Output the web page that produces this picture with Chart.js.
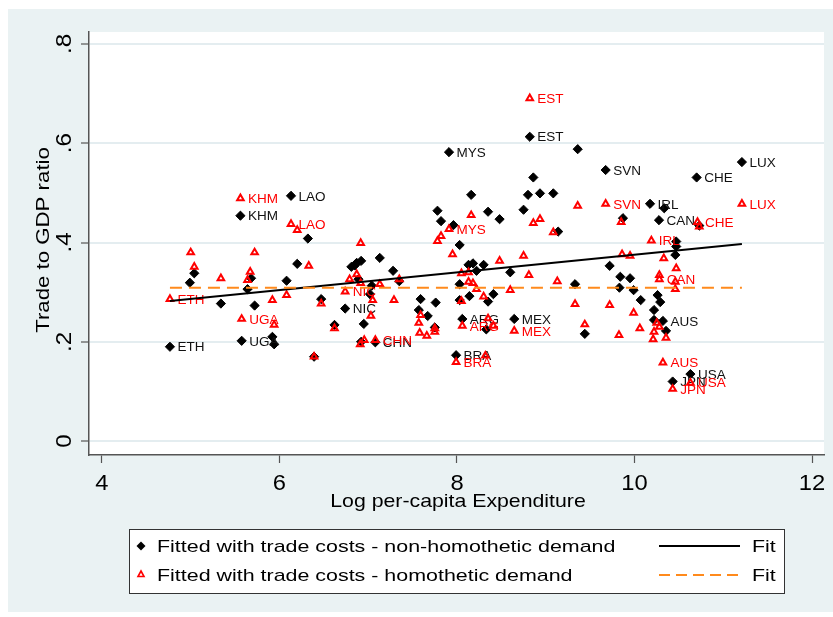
<!DOCTYPE html>
<html><head><meta charset="utf-8">
<script src="https://cdn.jsdelivr.net/npm/chart.js@4.4.1/dist/chart.umd.min.js"></script>
<style>html,body{margin:0;padding:0;background:#fff;}canvas{display:block;}</style>
</head><body>
<canvas id="c" width="833" height="617"></canvas>
<script>
// Non-homothetic demand (black diamonds)
const nhX = [4.766,5.574,5.56,6.13,6.74,7.08,7.91,7.99,8.06,8.645,8.82,9.675,10.175,10.276,10.32,10.43,10.63,10.70,11.21,
  9.36,10.335,10.73,10.47,8.86,8.16,8.80,8.935,9.085,8.35,8.48,8.75,9.14,9.87,6.32,7.78,7.82,7.96,8.03,
  5.04,4.99,5.68,5.64,5.34,5.72,5.92,5.94,6.20,6.81,6.87,6.92,6.85,7.13,7.28,6.89,7.04,7.35,6.08,7.02,6.47,
  7.59,7.76,7.57,7.67,8.03,8.03,6.62,6.95,7.75,6.92,6.39,9.72,8.13,8.18,8.22,8.30,8.60,9.33,9.84,9.95,9.83,
  9.99,10.07,8.14,8.41,8.35,8.33,9.44,10.47,10.46,10.26,10.29,10.22,10.22,10.355];
const nhY = [0.190,0.202,0.454,0.494,0.267,0.199,0.582,0.173,0.246,0.246,0.613,0.546,0.478,0.445,0.242,0.120,0.135,0.531,0.562,
  0.588,0.469,0.434,0.402,0.531,0.496,0.496,0.499,0.499,0.462,0.447,0.466,0.422,0.449,0.408,0.464,0.443,0.435,0.395,
  0.338,0.319,0.328,0.306,0.277,0.273,0.210,0.195,0.357,0.351,0.359,0.363,0.354,0.369,0.343,0.326,0.313,0.322,0.323,0.296,0.286,
  0.286,0.279,0.264,0.252,0.284,0.316,0.234,0.236,0.229,0.200,0.170,0.353,0.355,0.358,0.343,0.355,0.340,0.316,0.331,0.328,0.309,
  0.304,0.284,0.292,0.296,0.281,0.225,0.216,0.392,0.375,0.294,0.280,0.264,0.244,0.222];
const nhLabels = ['ETH','UGA','KHM','LAO','NIC','CHN','MYS','BRA','ARG','MEX','EST','SVN','IRL','CAN','AUS','JPN','USA','CHE','LUX'];

// Homothetic demand (red triangles)
const hX = [4.766,5.574,5.56,6.13,6.74,7.08,7.91,7.99,8.06,8.645,8.82,9.675,10.19,10.28,10.32,10.43,10.63,10.71,11.21,
  6.20,10.73,10.28,6.915,7.82,7.78,8.16,9.36,8.86,8.935,9.085,9.85,5.00,5.72,5.04,5.34,5.67,5.64,5.92,5.94,
  7.95,6.33,6.87,6.79,6.915,7.13,7.35,6.08,7.05,7.29,6.47,7.03,7.59,8.05,6.62,7.57,7.58,7.66,7.75,7.75,
  6.91,6.955,6.39,8.32,8.48,8.75,9.86,9.95,8.81,8.13,8.05,8.13,8.18,8.22,9.13,8.60,8.30,9.33,9.72,9.99,
  8.35,8.41,9.44,9.825,10.06,10.33,10.47,10.46,10.46,10.25,10.28,10.22,10.21,10.355];
const hY = [0.286,0.246,0.489,0.437,0.301,0.2035,0.427,0.159,0.232,0.222,0.6905,0.478,0.404,0.326,0.158,0.105,0.1175,0.441,0.478,
  0.425,0.432,0.3345,0.399,0.413,0.403,0.455,0.474,0.439,0.447,0.4205,0.441,0.380,0.380,0.351,0.328,0.341,0.3245,0.284,0.234,
  0.376,0.353,0.336,0.326,0.318,0.316,0.326,0.294,0.284,0.284,0.277,0.2525,0.254,0.282,0.227,0.238,0.218,0.212,0.227,0.220,
  0.195,0.2035,0.170,0.172,0.363,0.373,0.376,0.373,0.3345,0.340,0.338,0.321,0.318,0.306,0.322,0.304,0.291,0.276,0.274,0.2585,
  0.247,0.232,0.235,0.2135,0.227,0.368,0.348,0.321,0.306,0.238,0.230,0.220,0.205,0.208];
const hLabels = ['ETH','UGA','KHM','LAO','NIC','CHN','MYS','BRA','ARG','MEX','EST','SVN','IRL','CAN','AUS','JPN','USA','CHE','LUX'];

// Fit lines
const fitX = [4.766, 11.21];
const fitNHY = [0.282, 0.397];
const fitHY = [0.309, 0.309];

const xTicks = [4, 6, 8, 10, 12];
const xTickLabels = ['4', '6', '8', '10', '12'];
const yTicks = [0, 0.2, 0.4, 0.6, 0.8];
const yTickLabels = ['0', '.2', '.4', '.6', '.8'];
const xTitle = 'Log per-capita Expenditure';
const yTitle = 'Trade to GDP ratio';
const legendNames = ['Fitted with trade costs - non-homothetic demand', 'Fitted with trade costs - homothetic demand'];
const fitName = 'Fit';

const FONT = '"Liberation Sans", Arial, Helvetica, sans-serif';
const RED = '#ff0000';
const ORANGE = '#ff8a1c';
const BG = '#eaf2f3';

function txt(ctx, s, x, y, o) {
  ctx.save();
  ctx.translate(x, y);
  if (o.rot) ctx.rotate(o.rot);
  ctx.scale(o.sx || 1, 1);
  ctx.font = o.font;
  ctx.fillStyle = o.color || '#000';
  ctx.textAlign = o.align || 'left';
  ctx.textBaseline = o.base || 'alphabetic';
  ctx.fillText(s, 0, 0);
  ctx.restore();
}

const decor = {
  id: 'decor',
  beforeDraw(chart) {
    const ctx = chart.ctx, a = chart.chartArea;
    ctx.save();
    ctx.fillStyle = '#fff';
    ctx.fillRect(0, 0, chart.width, chart.height);
    ctx.fillStyle = BG;
    ctx.fillRect(8, 9, 825, 603);
    ctx.fillStyle = '#fff';
    ctx.fillRect(a.left, a.top, a.right - a.left, a.bottom - a.top);
    ctx.restore();
  },
  afterDatasetDraw(chart, args) {
    const ctx = chart.ctx;
    let labels, color;
    if (args.index === 0) { labels = nhLabels; color = '#111'; }
    else if (args.index === 1) { labels = hLabels; color = RED; }
    else return;
    const meta = chart.getDatasetMeta(args.index);
    labels.forEach((l, i) => {
      const p = meta.data[i];
      if (!l || !p) return;
      txt(ctx, l, p.x + 7.5, p.y + 1, { font: '13.5px ' + FONT, color, base: 'middle' });
    });
  },
  afterDraw(chart) {
    const ctx = chart.ctx;
    const xs = chart.scales.x, ys = chart.scales.y;
    // x tick labels
    xTicks.forEach((v, i) => {
      txt(ctx, xTickLabels[i], xs.getPixelForValue(v), 490, { font: '22px ' + FONT, sx: 1.08, align: 'center' });
    });
    // y tick labels (rotated)
    yTicks.forEach((v, i) => {
      txt(ctx, yTickLabels[i], 71, ys.getPixelForValue(v), { font: '22px ' + FONT, sx: 1.1, align: 'center', rot: -Math.PI / 2 });
    });
    // axis titles
    txt(ctx, xTitle, 458, 507, { font: '18.5px ' + FONT, sx: 1.15, align: 'center' });
    txt(ctx, yTitle, 49, 240, { font: '19px ' + FONT, sx: 1.17, align: 'center', rot: -Math.PI / 2 });
    // legend box
    ctx.save();
    ctx.fillStyle = '#fff';
    ctx.fillRect(129, 529, 655, 64);
    ctx.strokeStyle = '#333';
    ctx.lineWidth = 1;
    ctx.strokeRect(129.5, 529.5, 655, 64);
    // diamond
    ctx.fillStyle = '#000';
    ctx.beginPath();
    ctx.moveTo(141, 541.5); ctx.lineTo(145.5, 546); ctx.lineTo(141, 550.5); ctx.lineTo(136.5, 546);
    ctx.closePath(); ctx.fill();
    // triangle
    ctx.strokeStyle = RED; ctx.lineWidth = 1.6;
    ctx.beginPath();
    ctx.moveTo(141, 571); ctx.lineTo(144, 576.5); ctx.lineTo(138, 576.5);
    ctx.closePath(); ctx.stroke();
    // line samples
    ctx.strokeStyle = '#000'; ctx.lineWidth = 2;
    ctx.beginPath(); ctx.moveTo(659, 546); ctx.lineTo(740, 546); ctx.stroke();
    ctx.strokeStyle = ORANGE; ctx.setLineDash([11, 6]);
    ctx.beginPath(); ctx.moveTo(659, 575); ctx.lineTo(740, 575); ctx.stroke();
    ctx.restore();
    txt(ctx, legendNames[0], 157, 552, { font: '17px ' + FONT, sx: 1.26 });
    txt(ctx, legendNames[1], 157, 581, { font: '17px ' + FONT, sx: 1.26 });
    txt(ctx, fitName, 752, 552, { font: '17px ' + FONT, sx: 1.26 });
    txt(ctx, fitName, 752, 581, { font: '17px ' + FONT, sx: 1.26 });
  }
};

new Chart(document.getElementById('c'), {
  type: 'scatter',
  data: {
    datasets: [
      { label: legendNames[0], data: nhX.map((x, i) => ({ x, y: nhY[i] })), pointStyle: 'rectRot',
        pointRadius: 4.6, backgroundColor: '#000', borderColor: '#000', borderWidth: 1, order: 4 },
      { label: legendNames[1], data: hX.map((x, i) => ({ x, y: hY[i] })), pointStyle: 'triangle',
        pointRadius: 3.8, backgroundColor: 'rgba(0,0,0,0)', borderColor: RED, borderWidth: 2, order: 3 },
      { label: fitName, type: 'line', data: fitX.map((x, i) => ({ x, y: fitNHY[i] })), showLine: true,
        borderColor: '#000', borderWidth: 2, pointRadius: 0, fill: false, order: 2 },
      { label: fitName, type: 'line', data: fitX.map((x, i) => ({ x, y: fitHY[i] })), showLine: true,
        borderColor: ORANGE, borderWidth: 2, borderDash: [12, 7], pointRadius: 0, fill: false, order: 1 }
    ]
  },
  options: {
    responsive: false,
    animation: false,
    events: [],
    layout: { padding: { top: 32, right: 9, left: 0, bottom: 0 } },
    plugins: { legend: { display: false }, tooltip: { enabled: false } },
    scales: {
      x: {
        type: 'linear', min: 3.854, max: 12.135,
        afterBuildTicks: s => { s.ticks = xTicks.map(v => ({ value: v })); },
        afterFit: s => { s.height = 162; },
        grid: { drawOnChartArea: false, drawTicks: true, tickLength: 8, tickColor: '#555', tickWidth: 1.2 },
        border: { display: true, color: '#555', width: 1.5 },
        ticks: { display: false }
      },
      y: {
        type: 'linear', min: -0.028, max: 0.824,
        afterBuildTicks: s => { s.ticks = yTicks.map(v => ({ value: v })); },
        afterFit: s => { s.width = 89; },
        grid: { color: '#e4edf0', lineWidth: 2, drawTicks: true, tickLength: 8, tickColor: '#555', tickWidth: 1.2 },
        border: { display: true, color: '#555', width: 1.5 },
        ticks: { display: false }
      }
    }
  },
  plugins: [decor]
});
</script>
</body></html>
